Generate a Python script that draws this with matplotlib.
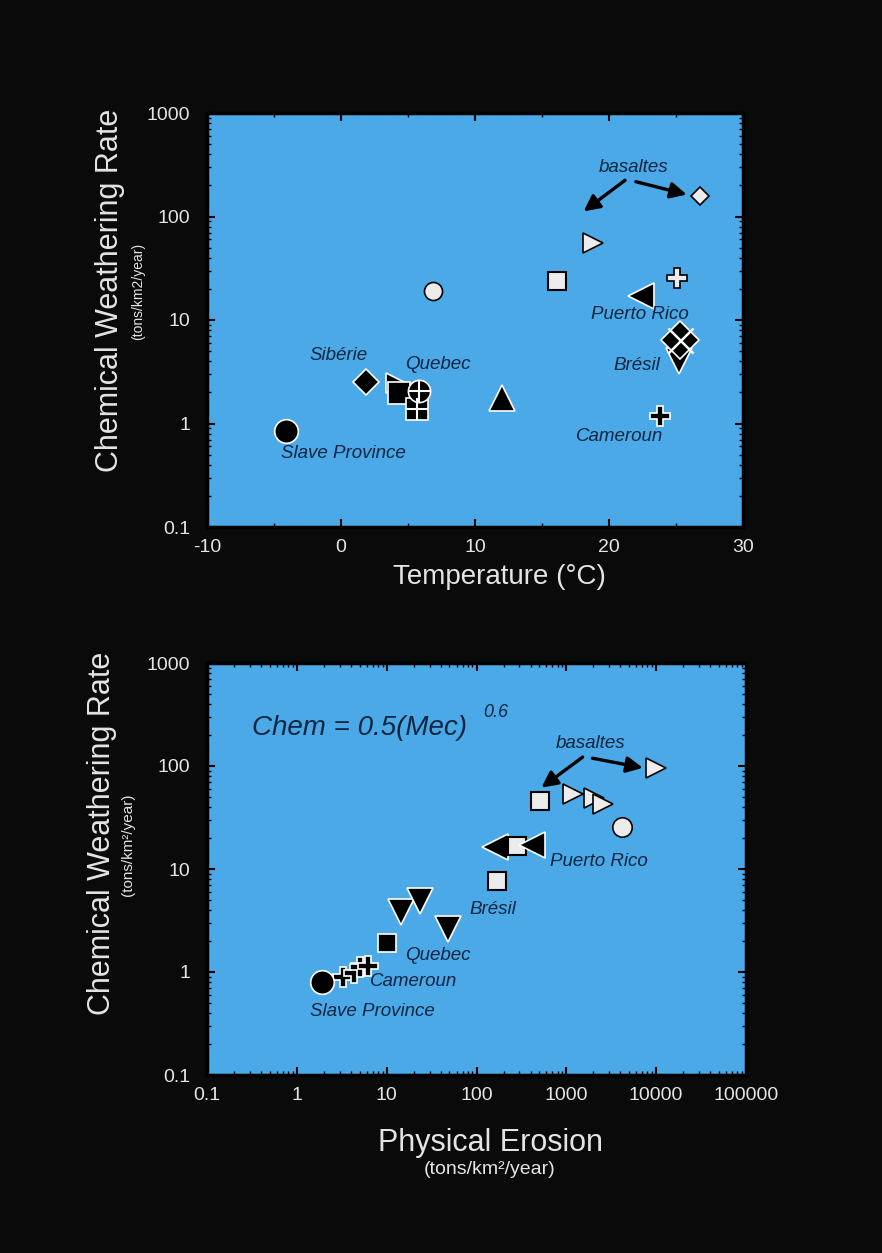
import numpy as np
import matplotlib
matplotlib.use('Agg')
import matplotlib.pyplot as plt
from matplotlib.ticker import FixedLocator, FuncFormatter, LogLocator, NullFormatter, MultipleLocator

plt.rcParams['font.family'] = ['Liberation Sans', 'DejaVu Sans']
plt.rcParams['axes.unicode_minus'] = False

# ---- top panel: temperature (°C) vs chemical weathering rate ----
t_slave, r_slave = [-4.1], [0.84]
t_siberie, r_siberie = [1.9], [2.5]
t_qc_tri, r_qc_tri = [4.1], [2.45]
t_qc_sq, r_qc_sq = [4.3], [1.96]
t_qc_grid, r_qc_grid = [5.7], [1.37]
t_qc_circ, r_qc_circ = [5.8], [2.04]
t_tri_up, r_tri_up = [12.0], [1.76]
t_open_circ, r_open_circ = [6.9], [19.0]
t_open_sq, r_open_sq = [16.1], [24.0]
t_open_tri, r_open_tri = [18.8], [55.0]
t_open_dia, r_open_dia = [26.8], [159.0]
t_open_plus, r_open_plus = [25.1], [25.3]
t_pr, r_pr = [22.4], [17.0]
t_br_dia, r_br_dia = [25.3], [6.4]
t_br_tri, r_br_tri = [25.2], [4.0]
t_cam, r_cam = [23.8], [1.18]

# ---- bottom panel: physical erosion vs chemical weathering rate ----
e_slave, c_slave = [1.9], [0.80]
e_cam, c_cam = [3.3, 4.3, 5.0, 6.2], [0.89, 0.98, 1.12, 1.14]
e_qc, c_qc = [10.2], [1.92]
e_down, c_down = [14.6, 23.6, 47.6], [3.8, 4.87, 2.63]
e_wsq, c_wsq = [171, 282, 505], [7.7, 16.8, 45.9]
e_left, c_left = [159, 416], [16.2, 17.0]
e_wtri, c_wtri = [1200, 2040, 2590, 10000], [53, 49.4, 43.2, 95]
e_wcirc, c_wcirc = [4200], [25.3]

BG = '#0a0a0a'
BLUE = '#4aa9e6'
TXT = '#e4e4e4'
LAB = '#0c2642'

fig = plt.figure(figsize=(8.82, 12.53), dpi=100, facecolor=BG)
W, H = 882, 1253


def px_axes(l, t, r, b):
    return fig.add_axes([l / W, 1 - b / H, (r - l) / W, (b - t) / H])


def mk(ax, x, y, m, ms, fc, ec, mew=1.2, z=3):
    ax.plot(x, y, linestyle='none', marker=m, markersize=ms,
            markerfacecolor=fc, markeredgecolor=ec, markeredgewidth=mew, zorder=z)


def style(ax):
    ax.set_facecolor(BLUE)
    for s in ax.spines.values():
        s.set_color('black')
        s.set_linewidth(2.5)
    ax.tick_params(which='both', direction='in', top=True, right=True,
                   colors='black', labelcolor=TXT, labelsize=14)
    ax.tick_params(which='major', length=6, width=1.5)
    ax.tick_params(which='minor', length=3, width=1)
    ax.tick_params(axis='x', pad=9)
    ax.tick_params(axis='y', pad=12)


def lab(ax, x, y, s, size=13.5):
    ax.text(x, y, s, style='italic', color=LAB, fontsize=size,
            ha='center', va='center', zorder=5)


def logfmt(v, _):
    return f'{v:g}' if v < 1 else f'{v:.0f}'


# ================= top panel =================
ax1 = px_axes(207, 113, 743, 527)
style(ax1)
ax1.set_xlim(-10, 30)
ax1.set_yscale('log')
ax1.set_ylim(0.1, 1000)
ax1.xaxis.set_major_locator(MultipleLocator(10))
ax1.xaxis.set_minor_locator(MultipleLocator(5))
ax1.yaxis.set_major_locator(FixedLocator([0.1, 1, 10, 100, 1000]))
ax1.yaxis.set_minor_locator(LogLocator(base=10, subs=np.arange(2, 10)))
ax1.yaxis.set_major_formatter(FuncFormatter(logfmt))
ax1.yaxis.set_minor_formatter(NullFormatter())

mk(ax1, t_slave, r_slave, 'o', 17, 'black', 'white')
mk(ax1, t_siberie, r_siberie, 'D', 13, 'black', 'white')
mk(ax1, t_qc_tri, r_qc_tri, '>', 15, 'black', 'white')
mk(ax1, t_qc_sq, r_qc_sq, 's', 16, 'black', 'white')
mk(ax1, t_qc_grid, r_qc_grid, 's', 16, 'black', 'white')
mk(ax1, t_qc_grid, r_qc_grid, '+', 16, 'white', 'white', mew=1.5, z=4)
mk(ax1, t_qc_circ, r_qc_circ, 'o', 16, 'black', 'white')
mk(ax1, t_qc_circ, r_qc_circ, '+', 16, 'white', 'white', mew=1.5, z=4)
mk(ax1, t_tri_up, r_tri_up, '^', 19, 'black', 'white')
mk(ax1, t_open_circ, r_open_circ, 'o', 13, '#ececec', 'black')
mk(ax1, t_open_sq, r_open_sq, 's', 13, '#ececec', 'black', mew=1.5)
mk(ax1, t_open_tri, r_open_tri, '>', 14, '#ececec', 'black')
mk(ax1, t_open_dia, r_open_dia, 'D', 9.5, '#ececec', 'black')
mk(ax1, t_open_plus, r_open_plus, 'P', 14, '#ececec', 'black')
mk(ax1, t_pr, r_pr, '<', 19, 'black', 'white')
mk(ax1, t_br_tri, r_br_tri, 'v', 19, 'black', 'white')
mk(ax1, t_br_dia, r_br_dia, 'D', 19, 'black', 'white')
mk(ax1, t_br_dia, r_br_dia, 'x', 18, 'white', 'white', mew=1.8, z=4)
mk(ax1, t_cam, r_cam, 'P', 15, 'black', 'white')

lab(ax1, 21.8, 300, 'basaltes')
lab(ax1, 22.3, 11.4, 'Puerto Rico')
lab(ax1, 22.1, 3.64, 'Brésil')
lab(ax1, 20.8, 0.75, 'Cameroun')
lab(ax1, -0.2, 4.5, 'Sibérie')
lab(ax1, 7.2, 3.72, 'Quebec')
lab(ax1, 0.2, 0.51, 'Slave Province')
arrow = dict(arrowstyle='-|>', color='black', lw=2.4, mutation_scale=24, shrinkA=0, shrinkB=0)
ax1.annotate('', xy=(18.1, 112), xytext=(21.2, 224), arrowprops=arrow)
ax1.annotate('', xy=(25.8, 163), xytext=(22.0, 217), arrowprops=arrow)

fig.text(110 / W, 1 - 290 / H, 'Chemical Weathering Rate', rotation=90,
         color=TXT, fontsize=22, ha='center', va='center')
fig.text(138 / W, 1 - 291 / H, '(tons/km2/year)', rotation=90,
         color=TXT, fontsize=10, ha='center', va='center')
fig.text(499 / W, 1 - 577 / H, 'Temperature (°C)', color=TXT, fontsize=20,
         ha='center', va='center')

# ================= bottom panel =================
ax2 = px_axes(207, 663, 746, 1075)
style(ax2)
ax2.set_xscale('log')
ax2.set_yscale('log')
ax2.set_xlim(0.1, 100000)
ax2.set_ylim(0.1, 1000)
ax2.xaxis.set_major_locator(FixedLocator([0.1, 1, 10, 100, 1000, 10000, 100000]))
ax2.yaxis.set_major_locator(FixedLocator([0.1, 1, 10, 100, 1000]))
for a in (ax2.xaxis, ax2.yaxis):
    a.set_minor_locator(LogLocator(base=10, subs=np.arange(2, 10)))
    a.set_major_formatter(FuncFormatter(logfmt))
    a.set_minor_formatter(NullFormatter())

mk(ax2, e_cam, c_cam, 'P', 14, 'black', 'white')
mk(ax2, e_slave, c_slave, 'o', 17, 'black', 'white')
mk(ax2, e_qc, c_qc, 's', 13, 'black', 'white')
mk(ax2, e_down, c_down, 'v', 19, 'black', 'white')
mk(ax2, e_left[:1], c_left[:1], '<', 19, 'black', 'white')
mk(ax2, e_wsq, c_wsq, 's', 13, '#ececec', 'black', mew=1.5)
mk(ax2, e_left[1:], c_left[1:], '<', 19, 'black', 'white')
mk(ax2, e_wtri, c_wtri, '>', 14, '#ececec', 'black')
mk(ax2, e_wcirc, c_wcirc, 'o', 14, '#ececec', 'black')

ax2.text(0.32, 235, 'Chem = 0.5(Mec)', style='italic', color=LAB, fontsize=20,
         ha='left', va='center', zorder=5)
ax2.text(120, 330, '0.6', style='italic', color=LAB, fontsize=13,
         ha='left', va='center', zorder=5)
lab(ax2, 1850, 164, 'basaltes')
lab(ax2, 2310, 11.9, 'Puerto Rico')
lab(ax2, 151, 4.0, 'Brésil')
lab(ax2, 37.4, 1.45, 'Quebec')
lab(ax2, 20, 0.80, 'Cameroun')
lab(ax2, 6.9, 0.41, 'Slave Province')
ax2.annotate('', xy=(527, 61.6), xytext=(1520, 122), arrowprops=arrow)
ax2.annotate('', xy=(7100, 96), xytext=(1950, 119), arrowprops=arrow)

fig.text(102 / W, 1 - 833 / H, 'Chemical Weathering Rate', rotation=90,
         color=TXT, fontsize=22, ha='center', va='center')
fig.text(128 / W, 1 - 845 / H, '(tons/km²/year)', rotation=90,
         color=TXT, fontsize=11, ha='center', va='center')
fig.text(490 / W, 1 - 1143 / H, 'Physical Erosion', color=TXT, fontsize=22,
         ha='center', va='center')
fig.text(490 / W, 1 - 1170 / H, '(tons/km²/year)', color=TXT, fontsize=14,
         ha='center', va='center')

fig.savefig('out.png', dpi=100, facecolor=BG)
